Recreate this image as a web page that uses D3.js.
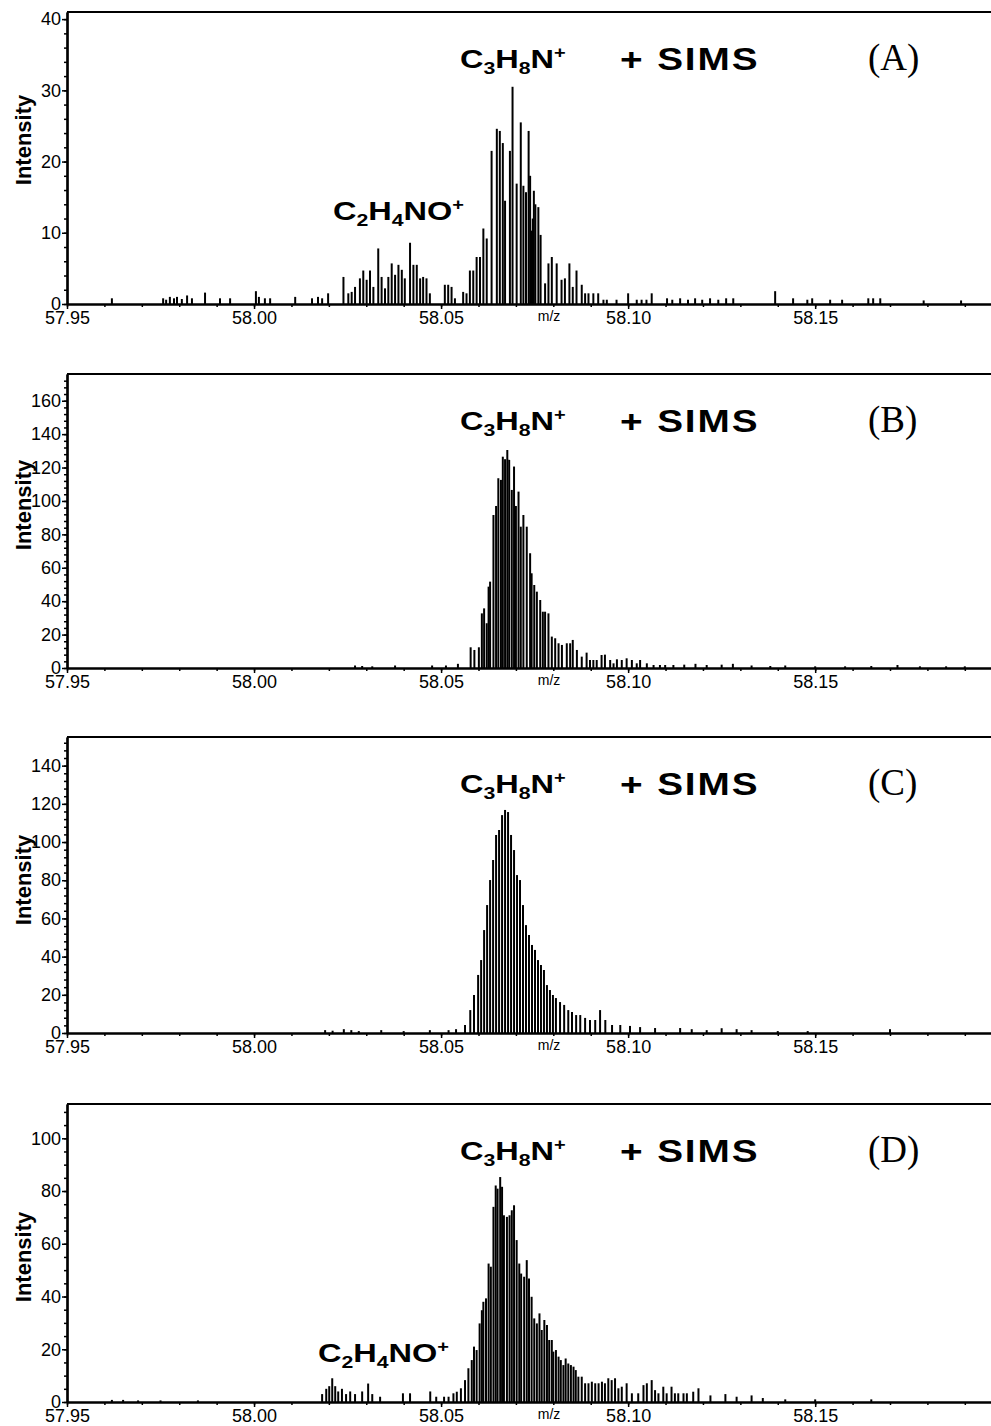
<!DOCTYPE html>
<html>
<head>
<meta charset="utf-8">
<script src="https://cdn.jsdelivr.net/npm/d3@7/dist/d3.min.js"></script>
<style>
  body { margin: 0; background: #fff; }
  svg { display: block; font-family: "Liberation Sans", Arial, sans-serif; }
</style>
</head>
<body>
<script>
'use strict';

// axis tick labels
const xTicks = [57.95, 58.00, 58.05, 58.10, 58.15];
const yTicksA = [0, 10, 20, 30, 40];
const yTicksB = [0, 20, 40, 60, 80, 100, 120, 140, 160];
const yTicksC = [0, 20, 40, 60, 80, 100, 120, 140];
const yTicksD = [0, 20, 40, 60, 80, 100];
const panelNames = ['(A)', '(B)', '(C)', '(D)'];

// spectrum A  (m/z, intensity)
const mzA = [57.9620, 57.9757, 57.9765, 57.9775, 57.9786, 57.9794, 57.9807, 57.9821, 57.9834, 57.9869,
  57.9909, 57.9936, 58.0005, 58.0013, 58.0029, 58.0043, 58.0110, 58.0155, 58.0171, 58.0182, 58.0198,
  58.0239, 58.0252, 58.0261, 58.0270, 58.0283, 58.0292, 58.0301, 58.0310, 58.0319, 58.0332,
  58.0341, 58.0350, 58.0359, 58.0368, 58.0377, 58.0386, 58.0395, 58.0403, 58.0417, 58.0426,
  58.0435, 58.0444, 58.0452, 58.0461, 58.0470, 58.0510, 58.0519, 58.0528, 58.0537, 58.0559,
  58.0568, 58.0577, 58.0586, 58.0595, 58.0604, 58.0613, 58.0622, 58.0635, 58.0649, 58.0657,
  58.0665, 58.0671, 58.0684, 58.0691, 58.0702, 58.0713, 58.0720, 58.0727, 58.0734, 58.0738,
  58.0742, 58.0745, 58.0748, 58.0752, 58.0760, 58.0766, 58.0778, 58.0787, 58.0796, 58.0809,
  58.0822, 58.0831, 58.0843, 58.0852, 58.0862, 58.0876, 58.0885, 58.0894, 58.0907, 58.0920,
  58.0934, 58.0943, 58.0969, 58.1000, 58.1023, 58.1036, 58.1049, 58.1063, 58.1104, 58.1118,
  58.1139, 58.1160, 58.1179, 58.1198, 58.1219, 58.1241, 58.1262, 58.1281, 58.1393, 58.1441,
  58.1479, 58.1492, 58.1540, 58.1572, 58.1642, 58.1655, 58.1674, 58.1790, 58.1890];
const intA = [0.8, 0.8, 0.6, 1.0, 0.8, 1.0, 0.7, 1.2, 0.8, 1.6,
  0.8, 0.8, 1.8, 1.0, 0.8, 0.8, 1.0, 0.8, 1.0, 0.8, 1.5,
  3.8, 1.5, 1.7, 2.4, 3.6, 4.7, 3.4, 4.7, 2.4, 7.8,
  3.8, 2.2, 3.8, 5.7, 4.1, 5.5, 4.8, 3.6, 8.6, 5.5,
  5.5, 3.6, 3.8, 3.6, 1.5, 2.7, 2.7, 2.4, 0.8, 1.7,
  1.5, 4.7, 4.7, 6.6, 6.6, 10.6, 9.2, 21.5, 24.6, 24.3,
  22.6, 14.5, 21.5, 30.5, 16.9, 25.5, 16.6, 15.7, 24.3, 18.0,
  10.3, 12.0, 15.9, 14.0, 13.6, 9.7, 2.9, 5.7, 6.6, 5.7,
  3.4, 3.6, 5.7, 2.4, 4.7, 2.7, 1.5, 1.5, 1.5, 1.5,
  0.6, 0.6, 0.6, 1.5, 0.6, 0.6, 0.6, 1.5, 0.8, 0.6,
  0.8, 0.6, 0.8, 0.6, 0.8, 0.6, 0.8, 0.8, 1.8, 0.8,
  0.6, 0.8, 0.6, 0.6, 0.8, 0.8, 0.8, 0.5, 0.5];

// spectrum B
const mzB = [58.0270, 58.0289, 58.0316, 58.0377, 58.0476, 58.0513, 58.0545,
  58.0579, 58.0589, 58.0601, 58.0609, 58.0615, 58.0622, 58.0627, 58.0631, 58.0640, 58.0647,
  58.0653, 58.0660, 58.0665, 58.0671, 58.0677, 58.0682, 58.0689, 58.0695, 58.0700, 58.0707,
  58.0713, 58.0720, 58.0729, 58.0738, 58.0742, 58.0749, 58.0756, 58.0765, 58.0772, 58.0778,
  58.0787, 58.0796, 58.0805, 58.0814, 58.0823, 58.0836, 58.0845, 58.0852, 58.0863, 58.0876,
  58.0889, 58.0898, 58.0907, 58.0916, 58.0929, 58.0938, 58.0952, 58.0961, 58.0970, 58.0983,
  58.0996, 58.1010, 58.1023, 58.1032, 58.1050, 58.1068, 58.1085, 58.1099, 58.1121,
  58.1150, 58.1180, 58.1210, 58.1250, 58.1280, 58.1330, 58.1380, 58.1420, 58.1500, 58.1580,
  58.1650, 58.1720, 58.1780, 58.1850, 58.1900];
const intB = [1.5, 1.2, 1.0, 1.5, 1.5, 1.5, 2.5,
  12.4, 10.8, 12.4, 32.7, 35.7, 26.8, 48.7, 51.7, 91.6, 97.0,
  113.6, 112.6, 126.5, 125.0, 130.5, 124.6, 106.6, 120.6, 97.0, 105.6,
  84.6, 91.6, 84.6, 68.7, 56.7, 49.7, 45.7, 40.7, 33.7, 33.7,
  32.7, 18.8, 17.8, 14.8, 13.8, 14.8, 14.8, 16.8, 10.8, 6.8,
  9.2, 4.8, 4.8, 4.8, 7.8, 8.0, 4.8, 2.8, 5.2, 4.8,
  5.8, 4.8, 2.8, 4.8, 2.8, 1.8, 1.8, 1.8, 1.8,
  2.0, 2.5, 1.8, 2.0, 2.5, 1.5, 1.2, 1.5, 1.0, 1.0,
  1.2, 1.8, 1.0, 1.0, 1.0];

// spectrum C
const mzC = [58.0190, 58.0210, 58.0240, 58.0260, 58.0280, 58.0340, 58.0400, 58.0470, 58.0520, 58.0540,
  58.0564, 58.0578, 58.0588, 58.0599, 58.0607, 58.0615, 58.0623, 58.0631, 58.0639, 58.0647,
  58.0655, 58.0663, 58.0671, 58.0679, 58.0687, 58.0695, 58.0703, 58.0711, 58.0719, 58.0727,
  58.0735, 58.0743, 58.0751, 58.0759, 58.0767, 58.0775, 58.0783, 58.0791, 58.0799, 58.0807,
  58.0818, 58.0829, 58.0840, 58.0850, 58.0861, 58.0872, 58.0885, 58.0898, 58.0912, 58.0925,
  58.0939, 58.0957, 58.0979, 58.1005, 58.1032, 58.1072, 58.1139,
  58.1170, 58.1210, 58.1250, 58.1290, 58.1330, 58.1400, 58.1480, 58.1700];
const intC = [1.5, 1.2, 2.0, 1.5, 1.0, 1.5, 1.0, 1.5, 1.5, 2.0,
  4.2, 12.0, 19.9, 30.4, 38.2, 53.9, 67.0, 80.1, 90.6, 103.7,
  106.3, 114.1, 116.8, 115.7, 103.7, 95.8, 82.7, 80.1, 67.0, 56.5,
  51.3, 46.1, 43.5, 38.2, 35.6, 33.0, 25.1, 22.5, 19.9, 18.3,
  16.2, 14.7, 12.0, 11.0, 9.4, 9.4, 7.9, 6.8, 6.8, 12.0,
  6.8, 4.2, 4.2, 3.7, 3.1, 2.6, 2.6,
  2.0, 1.5, 2.5, 2.0, 1.5, 1.0, 1.0, 2.0];

// spectrum D
const mzD = [57.9620, 57.9650, 57.9690, 57.9750, 57.9850,
  58.0182, 58.0193, 58.0201, 58.0209, 58.0217, 58.0225, 58.0235, 58.0246, 58.0257, 58.0270,
  58.0289, 58.0305, 58.0316, 58.0337, 58.0398, 58.0417, 58.0471, 58.0487, 58.0508, 58.0520,
  58.0533, 58.0542, 58.0553, 58.0564, 58.0573, 58.0582, 58.0588, 58.0595, 58.0603, 58.0609,
  58.0613, 58.0620, 58.0627, 58.0633, 58.0640, 58.0646, 58.0651, 58.0658, 58.0663, 58.0668,
  58.0676, 58.0683, 58.0689, 58.0695, 58.0702, 58.0709, 58.0714, 58.0722, 58.0729, 58.0735,
  58.0742, 58.0749, 58.0756, 58.0763, 58.0769, 58.0776, 58.0783, 58.0789, 58.0796, 58.0800,
  58.0807, 58.0814, 58.0820, 58.0827, 58.0833, 58.0840, 58.0847, 58.0854, 58.0860, 58.0867,
  58.0876, 58.0885, 58.0894, 58.0903, 58.0912, 58.0921, 58.0930, 58.0938, 58.0947, 58.0956,
  58.0965, 58.0974, 58.0983, 58.0996, 58.1010, 58.1027, 58.1041, 58.1050, 58.1063, 58.1072,
  58.1081, 58.1094, 58.1103, 58.1116, 58.1125, 58.1134, 58.1148, 58.1157, 58.1174, 58.1188,
  58.1220, 58.1260, 58.1290, 58.1330, 58.1360, 58.1420, 58.1500, 58.1650];
const intD = [0.8, 0.8, 0.6, 0.6, 0.6,
  3.0, 5.0, 6.0, 9.0, 6.0, 4.0, 5.0, 3.0, 4.0, 3.0,
  4.0, 7.0, 3.0, 2.0, 3.3, 3.3, 4.0, 2.0, 2.0, 2.0,
  3.3, 3.9, 5.2, 8.3, 12.8, 15.9, 21.0, 19.7, 29.8, 34.8,
  38.0, 39.3, 52.5, 51.3, 74.0, 82.1, 80.9, 85.3, 81.6, 70.8,
  70.2, 70.8, 72.7, 74.6, 61.4, 52.5, 48.7, 47.5, 53.8, 46.8,
  39.9, 31.7, 29.8, 33.6, 27.3, 31.1, 29.2, 23.5, 23.5, 19.1,
  19.7, 17.2, 15.9, 14.0, 16.5, 14.6, 14.0, 13.4, 12.1, 9.6,
  9.6, 7.1, 7.1, 7.7, 7.1, 7.1, 7.7, 7.1, 9.0, 8.3,
  9.0, 5.2, 5.8, 7.1, 3.3, 3.3, 6.4, 7.1, 8.3, 4.5,
  3.3, 5.8, 3.3, 5.8, 3.3, 3.3, 3.3, 3.3, 3.9, 5.2,
  2.5, 3.0, 2.0, 2.5, 1.5, 1.0, 1.0, 1.0];

(function() {

  const W = 991, H = 1426;
  const left = 67, right = 991;
  let svg = "";

  window.onload = function() {
    svg = d3.select('body').append('svg')
      .attr('width', W)
      .attr('height', H);

    let panels = [
      { mz: mzA, it: intA, yMax: 41, yTicks: yTicksA, minor: 2, top: 12, bottom: 304, yLab: 140, other: [333, 220] },
      { mz: mzB, it: intB, yMax: 176, yTicks: yTicksB, minor: 4, top: 374, bottom: 668, yLab: 505, other: null },
      { mz: mzC, it: intC, yMax: 155, yTicks: yTicksC, minor: 4, top: 737, bottom: 1033, yLab: 880, other: null },
      { mz: mzD, it: intD, yMax: 113, yTicks: yTicksD, minor: 5, top: 1104, bottom: 1402, yLab: 1257, other: [318, 1362] }
    ];

    panels.forEach((p, i) => drawPanel(p, panelNames[i]));
  }

  // one spectrum with its frame, axes and labels
  function drawPanel(p, name) {
    let g = svg.append('g');

    let x = d3.scaleLinear().domain([57.95, 58.197]).range([left, right]);
    let y = d3.scaleLinear().domain([0, p.yMax]).range([p.bottom, p.top]);

    // spectrum sticks
    g.selectAll('.stick')
      .data(d3.zip(p.mz, p.it))
      .enter()
      .append('line')
        .attr('class', 'stick')
        .attr('x1', d => x(d[0]))
        .attr('x2', d => x(d[0]))
        .attr('y1', y(0))
        .attr('y2', d => y(d[1]))
        .attr('stroke', '#000')
        .attr('stroke-width', 2);

    // top frame line
    g.append('line')
      .attr('x1', left).attr('x2', right)
      .attr('y1', p.top).attr('y2', p.top)
      .attr('stroke', '#000').attr('stroke-width', 2);

    // y axis: minor then major ticks
    g.append('g')
      .attr('transform', `translate(${left},0)`)
      .call(d3.axisLeft(y).tickValues(d3.range(0, p.yMax, p.minor)).tickSize(3).tickSizeOuter(0).tickFormat(''));
    let ya = g.append('g')
      .attr('transform', `translate(${left},0)`)
      .call(d3.axisLeft(y).tickValues(p.yTicks).tickSize(5).tickSizeOuter(0).tickPadding(1).tickFormat(d3.format('d')));
    ya.selectAll('text').style('font-size', '18px').attr('fill', '#000');

    // x axis: minor then major ticks
    g.append('g')
      .attr('transform', `translate(0,${p.bottom})`)
      .call(d3.axisBottom(x).tickValues(d3.range(57.95, 58.195, 0.01)).tickSize(3).tickSizeOuter(0).tickFormat(''));
    let xa = g.append('g')
      .attr('transform', `translate(0,${p.bottom})`)
      .call(d3.axisBottom(x).tickValues(xTicks).tickSize(5).tickSizeOuter(0).tickPadding(2).tickFormat(d3.format('.2f')));
    xa.selectAll('text').style('font-size', '18px').attr('fill', '#000');

    g.selectAll('.domain').attr('stroke-width', 2.2);
    g.selectAll('.tick line').attr('stroke-width', 1.5);

    // m/z label
    g.append('text')
      .attr('x', 549).attr('y', p.bottom + 17)
      .attr('text-anchor', 'middle')
      .style('font-size', '14px')
      .text('m/z');

    // y title
    g.append('text')
      .attr('transform', `translate(31,${p.yLab})rotate(-90)`)
      .attr('text-anchor', 'middle')
      .style('font-size', '22px')
      .style('font-weight', 'bold')
      .text('Intensity');

    // ion labels
    formula(g, 460, p.top + 56, [['C', 0], ['3', 1], ['H', 0], ['8', 1], ['N', 0], ['+', 2]]);
    if (p.other) {
      formula(g, p.other[0], p.other[1], [['C', 0], ['2', 1], ['H', 0], ['4', 1], ['NO', 0], ['+', 2]]);
    }

    g.append('text')
      .attr('transform', `translate(620,${p.top + 58}) scale(1.25,1)`)
      .style('font-size', '31px')
      .style('font-weight', 'bold')
      .style('letter-spacing', '1.5px')
      .text('+ SIMS');

    g.append('text')
      .attr('x', 868).attr('y', p.top + 58)
      .style('font-family', '"Liberation Serif", "Times New Roman", serif')
      .style('font-size', '37px')
      .text(name);
  }

  // chemical formula with sub/superscripts, stretched like the scan
  function formula(g, x, y, parts) {
    let t = g.append('text')
      .attr('transform', `translate(${x},${y}) scale(1.25,1)`)
      .style('font-size', '26px')
      .style('font-weight', 'bold');
    let shift = 0;
    parts.forEach(function(pt) {
      let target = pt[1] == 1 ? 6 : (pt[1] == 2 ? -10 : 0);
      t.append('tspan')
        .attr('dy', target - shift)
        .style('font-size', pt[1] == 0 ? '26px' : (pt[1] == 1 ? '17px' : '16px'))
        .text(pt[0]);
      shift = target;
    });
  }

})();
</script>
</body>
</html>
